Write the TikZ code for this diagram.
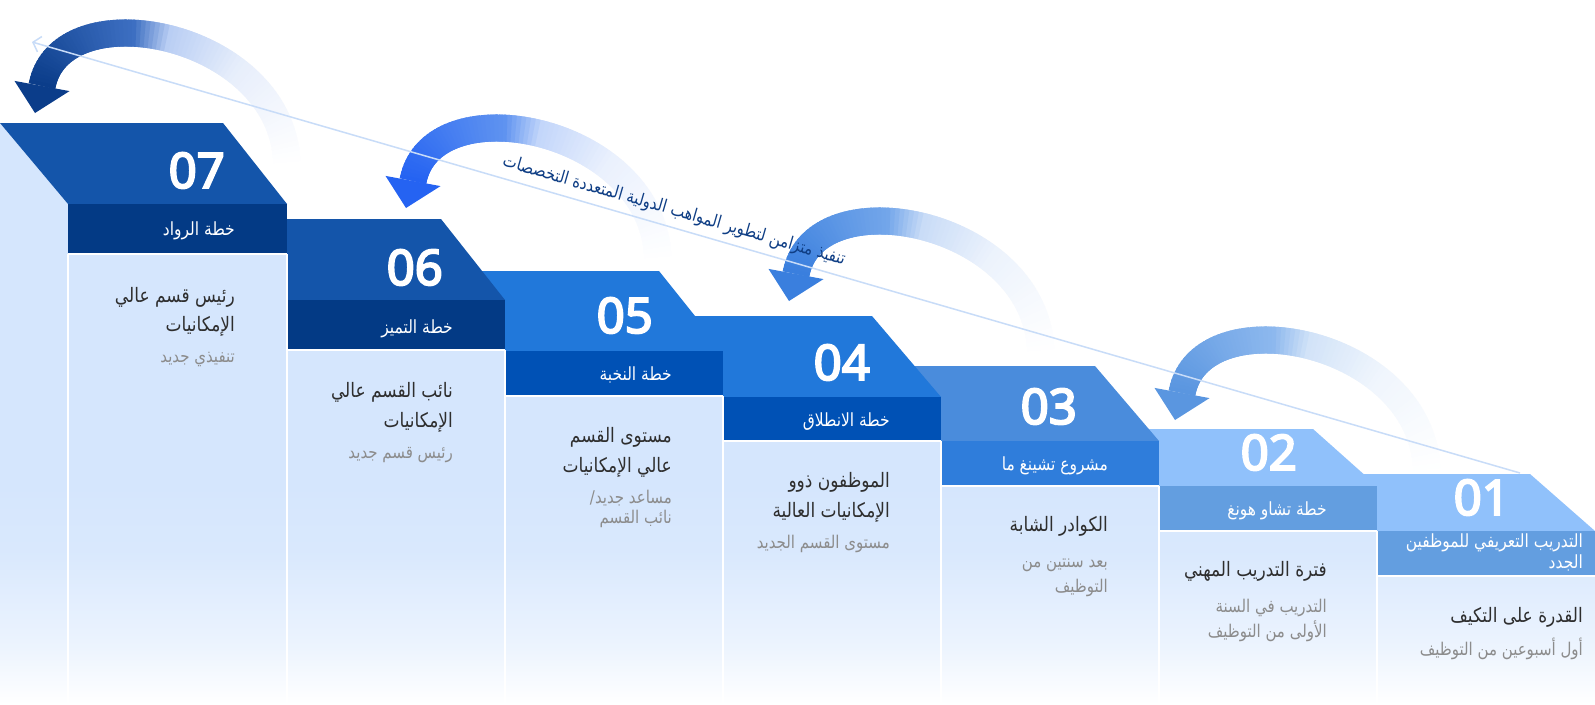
\documentclass[tikz,border=0pt]{standalone}
\usepackage{fontspec}
\usetikzlibrary{calc,arrows.meta}
\TeXXeTstate=1
\newfontfamily\arabicfont[Script=Arabic]{DejaVu Sans}
\newfontfamily\numfont{Noto Sans}[AutoFakeBold=4]
\newcommand{\RL}[1]{\scalebox{1}[1.17]{\beginR#1\endR}}
\definecolor{topA}{HTML}{1455AA}
\definecolor{bandA}{HTML}{033A85}
\definecolor{topB}{HTML}{2178DA}
\definecolor{bandB}{HTML}{0051B5}
\definecolor{topC}{HTML}{4A8CDC}
\definecolor{bandC}{HTML}{2F7DDB}
\definecolor{topD}{HTML}{90C1FB}
\definecolor{bandD}{HTML}{639EE0}
\definecolor{bodyc}{HTML}{D5E6FD}
\definecolor{titlec}{HTML}{2E2E2E}
\definecolor{subc}{HTML}{8C8C8C}
\definecolor{linec}{HTML}{C8DCF8}
\definecolor{diagc}{HTML}{0F3E85}
\definecolor{aDark}{HTML}{0B3D8A}\definecolor{aMid}{HTML}{3D6FC2}\definecolor{aLight}{HTML}{B9CEF4}
\definecolor{bDark}{HTML}{2563F2}\definecolor{bMid}{HTML}{5F93F0}\definecolor{bLight}{HTML}{C3D6FA}
\definecolor{cDark}{HTML}{3A7FDE}\definecolor{cMid}{HTML}{73A6EA}\definecolor{cLight}{HTML}{C9DCF7}
\definecolor{dDark}{HTML}{5A96E0}\definecolor{dMid}{HTML}{8DB8EE}\definecolor{dLight}{HTML}{D2E3F8}
\pgfdeclareverticalshading{bodyfade}{100bp}{color(0bp)=(white); color(25bp)=(white); color(30bp)=(bodyc!45!white); color(38bp)=(bodyc!90!white); color(44bp)=(bodyc); color(100bp)=(bodyc)}
\newcommand{\arrowcol}[4]{%
  \ifnum#1<24
    \pgfmathsetmacro\pc{35*#1/24}\colorlet{segc}{#4!\pc!white}%
  \else\ifnum#1<40
    \pgfmathsetmacro\pc{35+65*(#1-24)/16}\colorlet{segc}{#4!\pc!white}%
  \else\ifnum#1<48
    \pgfmathsetmacro\pc{100*(#1-40)/8}\colorlet{segc}{#3!\pc!#4}%
  \else
    \pgfmathsetmacro\pc{100*(#1-48)/31}\colorlet{segc}{#2!\pc!#3}%
  \fi\fi\fi}
\newcommand{\bigarrow}[6]{%
  \coordinate (#1a) at ({287+#2},{167+#3});
  \coordinate (#1b) at ({287+#2},{32+#3});
  \coordinate (#1c) at ({60+#2},{-12+#3});
  \coordinate (#1d) at ({42+#2},{86+#3});
  \foreach \i in {0,...,80}{%
    \pgfmathsetmacro\tpar{\i/80}%
    \coordinate (#1p\i) at ($ {(1-\tpar)^3}*(#1a) + {3*(1-\tpar)^2*\tpar}*(#1b) + {3*(1-\tpar)*\tpar^2}*(#1c) + {\tpar^3}*(#1d) $);
  }
  \foreach \i [remember=\i as \k (initially 0)] in {1,...,80}{%
    \pgfmathtruncatemacro\nx{min(\i+1,80)}%
    \arrowcol{\k}{#4}{#5}{#6}%
    \draw[shaft, draw=segc] (#1p\k) -- (#1p\nx);
  }
  \coordinate (#1h1) at ({14.5+#2},{80.9+#3});
  \coordinate (#1h2) at ({35+#2},{113+#3});
  \coordinate (#1h3) at ({69.5+#2},{91.1+#3});
  \fill[#4] (#1h1) -- (#1h2) -- (#1h3) -- cycle;
}
\tikzset{
  shaft/.style={line width=27, line cap=butt},
  bandtxt/.style={text=white, font=\arabicfont\fontsize{15.5}{17}\selectfont, anchor=base east, inner sep=0},
  titletxt/.style={text=titlec, font=\arabicfont\fontsize{17}{20}\selectfont, anchor=base east, inner sep=0},
  subtxt/.style={text=subc, font=\arabicfont\fontsize{15}{17}\selectfont, anchor=base east, inner sep=0},
  numtxt/.style={text=white, font=\numfont\bfseries\fontsize{49}{50}\selectfont, anchor=base east, inner sep=0},
  sepline/.style={white, line width=1.5},
  capline/.style={white, line width=2},
}
\begin{document}
\begin{tikzpicture}[x=1pt,y=-1pt]
\useasboundingbox (0,0) rectangle (1595,704);
\fill[white] (0,0) rectangle (1595,704);
% curved arrows
\bigarrow{A}{0}{0}{aDark}{aMid}{aLight}
\bigarrow{B}{371}{95}{bDark}{bMid}{bLight}
\bigarrow{C}{754}{188}{cDark}{cMid}{cLight}
\bigarrow{D}{1140}{307}{dDark}{dMid}{dLight}
% bodies
\shade[shading=bodyfade] (0,123) -- (68,204) -- (68,704) -- (0,704) -- cycle
  (68,254) rectangle (287,704)
  (287,350) rectangle (505,704)
  (505,396) rectangle (723,704)
  (723,441) rectangle (941,704)
  (941,486) rectangle (1159,704)
  (1159,531) rectangle (1377,704)
  (1377,576) rectangle (1595,704);
% steps 01 .. 07
\fill[topD] (1312,474) -- (1530,474) -- (1595,531) -- (1377,531) -- cycle;
\fill[bandD] (1377,531) rectangle (1595,576);
\fill[topD] (1094,429) -- (1313,429) -- (1377,486) -- (1159,486) -- cycle;
\fill[bandD] (1159,486) rectangle (1377,531);
\fill[topC] (877,366) -- (1095,366) -- (1159,441) -- (941,441) -- cycle;
\fill[bandC] (941,441) rectangle (1159,486);
\fill[topB] (654,316) -- (872,316) -- (941,397) -- (723,397) -- cycle;
\fill[bandB] (723,397) rectangle (941,441);
\fill[topB] (441,271) -- (659,271) -- (723,351) -- (505,351) -- cycle;
\fill[bandB] (505,351) rectangle (723,396);
\fill[topA] (287,219) -- (441,219) -- (505,300) -- (287,300) -- cycle;
\fill[bandA] (287,300) rectangle (505,350);
\fill[topA] (0,123) -- (223,123) -- (287,204) -- (68,204) -- cycle;
\fill[bandA] (68,204) rectangle (287,254);
% separators
\foreach \x/\y in {68/254,287/254,505/350,723/396,941/441,1159/486,1377/531}
  \draw[sepline] (\x,\y) -- (\x,704);
\foreach \a/\b/\y in {68/287/254,287/505/350,505/723/396,723/941/441,941/1159/486,1159/1377/531,1377/1595/576}
  \draw[capline] (\a,\y) -- (\b,\y);
% numbers
\node[numtxt] (n7) at (225,188) {07};
\node[numtxt] (n6) at (443,285) {06};
\node[numtxt] (n5) at (653,333) {05};
\node[numtxt] (n4) at (870,380) {04};
\node[numtxt] (n3) at (1077,424) {03};
\node[numtxt] (n2) at (1297,470) {02};
\node[numtxt] (n1) at (1510,515) {01};
% column 07
\node[bandtxt] (b7) at (235,235) {\RL{خطة الرواد}};
\node[titletxt] (t7a) at (235,302) {\RL{رئيس قسم عالي}};
\node[titletxt] (t7b) at (235,331) {\RL{الإمكانيات}};
\node[subtxt] (s7) at (235,362) {\RL{تنفيذي جديد}};
% column 06
\node[bandtxt] (b6) at (453,333) {\RL{خطة التميز}};
\node[titletxt] (t6a) at (453,397) {\RL{نائب القسم عالي}};
\node[titletxt] (t6b) at (453,427) {\RL{الإمكانيات}};
\node[subtxt] (s6) at (453,458) {\RL{رئيس قسم جديد}};
% column 05
\node[bandtxt] (b5) at (672,380) {\RL{خطة النخبة}};
\node[titletxt] (t5a) at (672,442) {\RL{مستوى القسم}};
\node[titletxt] (t5b) at (672,472) {\RL{عالي الإمكانيات}};
\node[subtxt] (s5a) at (672,503) {\RL{مساعد جديد/}};
\node[subtxt] (s5b) at (672,523) {\RL{نائب القسم}};
% column 04
\node[bandtxt] (b4) at (890,426) {\RL{خطة الانطلاق}};
\node[titletxt] (t4a) at (890,487) {\RL{الموظفون ذوو}};
\node[titletxt] (t4b) at (890,517) {\RL{الإمكانيات العالية}};
\node[subtxt] (s4) at (890,548) {\RL{مستوى القسم الجديد}};
% column 03
\node[bandtxt] (b3) at (1108,470) {\RL{مشروع تشينغ ما}};
\node[titletxt] (t3) at (1108,531) {\RL{الكوادر الشابة}};
\node[subtxt] (s3a) at (1108,567) {\RL{بعد سنتين من}};
\node[subtxt] (s3b) at (1108,592) {\RL{التوظيف}};
% column 02
\node[bandtxt] (b2) at (1327,515) {\RL{خطة تشاو هونغ}};
\node[titletxt] (t2) at (1327,576) {\RL{فترة التدريب المهني}};
\node[subtxt] (s2a) at (1327,612) {\RL{التدريب في السنة}};
\node[subtxt] (s2b) at (1327,637) {\RL{الأولى من التوظيف}};
% column 01
\node[bandtxt] (b1a) at (1583,547) {\RL{التدريب التعريفي للموظفين}};
\node[bandtxt] (b1b) at (1583,568) {\RL{الجدد}};
\node[titletxt] (t1) at (1583,622) {\RL{القدرة على التكيف}};
\node[subtxt] (s1) at (1583,655) {\RL{أول أسبوعين من التوظيف}};
% diagonal line and text
\coordinate (dlA) at (1520,473);
\coordinate (dlB) at (32,42);
\draw[linec, line width=1.5, -{Straight Barb[length=7pt,width=16pt]}] (dlA) -- (dlB);
\node[text=diagc, font=\arabicfont\fontsize{15}{17}\selectfont, rotate=-16.15, inner sep=0] (diag) at (674,211) {\RL{تنفيذ متزامن لتطوير المواهب الدولية المتعددة التخصصات}};
\end{tikzpicture}
\end{document}
